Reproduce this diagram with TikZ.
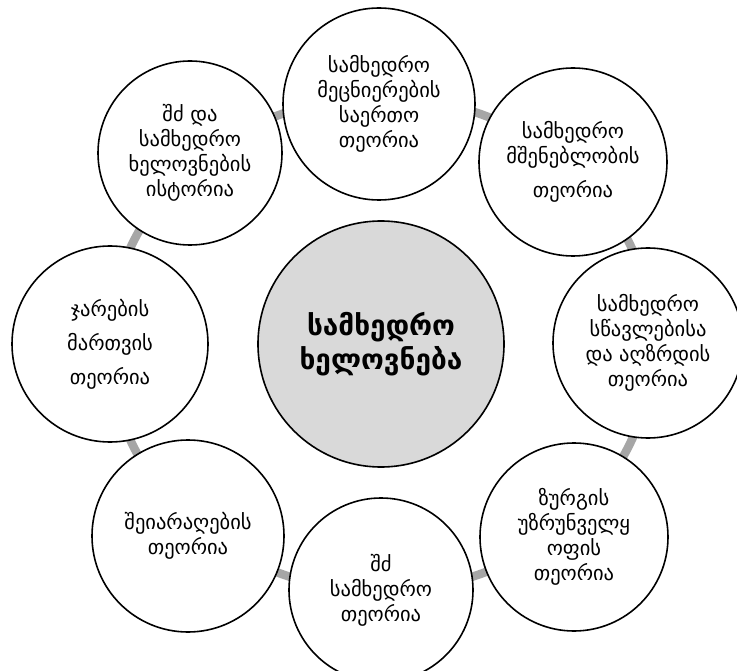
\documentclass[tikz,border=0pt]{standalone}
\usepackage{fontspec}
\setmainfont{DejaVu Sans}
\begin{document}
\begin{tikzpicture}[x=1pt,y=-1pt,
  ringline/.style={draw=black!35, line width=8.5pt},
  outer/.style={circle, draw=black, line width=1.6pt, fill=white, minimum size=#1, inner sep=0pt, align=center, font=\fontsize{20.5}{25}\selectfont},
  hub/.style={circle, draw=black, line width=1.6pt, fill=black!15, minimum size=246pt, inner sep=0pt, align=center, font=\fontsize{28}{34}\selectfont\bfseries}]
\useasboundingbox (0,0) rectangle (737,671);
\coordinate (c) at (381,344);
\draw[ringline] (c) ellipse [x radius=272pt, y radius=247pt];
\node[hub] (hubnode) at (381,344) {სამხედრო\\ხელოვნება};
\node[outer=192pt] (n1) at (379,104) {სამხედრო\\მეცნიერების\\საერთო\\თეორია};
\node[outer=188pt] (n2) at (573,162) {სამხედრო\\მშენებლობის\\[9pt]თეორია};
\node[outer=190pt] (n3) at (648,343) {სამხედრო\\სწავლებისა\\და აღზრდის\\თეორია};
\node[outer=188pt] (n4) at (574,537) {ზურგის\\უზრუნველყ\\ოფის\\თეორია};
\node[outer=184pt] (n5) at (381,590) {შძ\\სამხედრო\\თეორია};
\node[outer=192pt] (n6) at (188,536) {შეიარაღების\\თეორია};
\node[outer=196pt] (n7) at (110,344) {ჯარების\\[9pt]მართვის\\[9pt]თეორია};
\node[outer=184pt] (n8) at (190,153) {შძ და\\სამხედრო\\ხელოვნების\\ისტორია};
\end{tikzpicture}
\end{document}
